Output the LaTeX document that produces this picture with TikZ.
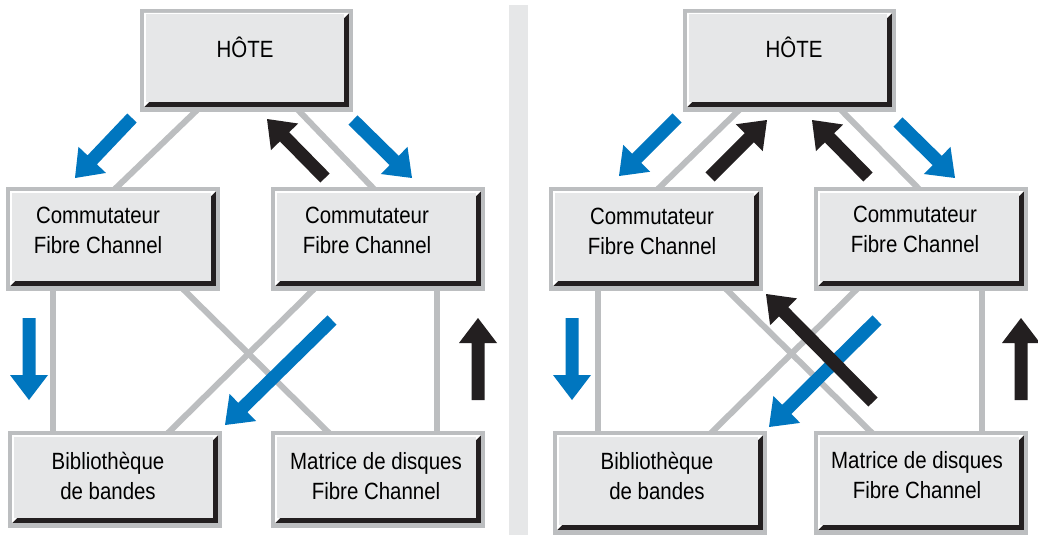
\documentclass[tikz,border=0pt]{standalone}
\usepackage{fontspec}
\setmainfont{Liberation Sans}[FakeStretch=0.87]
\usetikzlibrary{calc}
\definecolor{lgray}{HTML}{BCBEC0}
\definecolor{boxfill}{HTML}{E6E7E8}
\definecolor{ink}{HTML}{231F20}
\definecolor{fcblue}{HTML}{0076BF}
\definecolor{divgray}{HTML}{E6E7E8}
\pgfdeclarelayer{bg}
\pgfsetlayers{bg,main}
\tikzset{
  fcbox/.style={rectangle, inner sep=0pt, outer sep=0pt, fill=lgray,
    minimum width=214pt, minimum height=104pt, anchor=north west,
    path picture={
      \coordinate (nw) at (path picture bounding box.north west);
      \coordinate (se) at (path picture bounding box.south east);
      \fill[ink] ($(nw)+(4pt,-4pt)$) rectangle ($(se)+(-4pt,5pt)$);
      \fill[white] ($(nw)+(4pt,-4pt)$) -- ($(nw -| se)+(-4pt,-4pt)$) -- ($(nw -| se)+(-9pt,-9pt)$)
         -- ($(se -| nw)+(9pt,10pt)$) -- ($(se -| nw)+(4pt,5pt)$) -- cycle;
      \fill[boxfill] ($(nw)+(5.5pt,-5.5pt)$) rectangle ($(se)+(-9pt,10pt)$);
    }},
  lbl/.style={inner sep=0pt, align=center, anchor=base, font=\fontsize{23.5}{30}\selectfont, text=black},
  conn/.style={draw=lgray, line width=6pt, shorten <=-3pt, shorten >=-3pt},
}
\newcommand{\blkarrow}[3]{%
  \coordinate (t) at #2; \coordinate (p) at #3;
  \coordinate (b) at ($(p)!25pt!(t)$);
  \fill[#1] ($(t)!6.5pt!90:(p)$) -- ($(b)!6.5pt!-90:(t)$) -- ($(b)!19pt!-90:(t)$) -- (p)
     -- ($(b)!19pt!90:(t)$) -- ($(b)!6.5pt!90:(t)$) -- ($(t)!6.5pt!-90:(p)$) -- cycle;
}
\begin{document}
\begin{tikzpicture}[x=1pt,y=-1pt]
\useasboundingbox (0,0) rectangle (1038,535);
\begin{pgfonlayer}{bg}
\fill[white] (0,0) rectangle (1038,535);
\fill[divgray] (509,5) rectangle (528,535);
\end{pgfonlayer}
% boxes
\node[fcbox, minimum height=103pt, minimum width=213pt] (hL) at (140,9) {};
\node[fcbox] (cLL) at (6,187) {};
\node[fcbox] (cLR) at (271,187) {};
\node[fcbox, minimum height=97pt] (bL) at (8,431) {};
\node[fcbox, minimum height=97pt] (mL) at (271,431) {};
\node[fcbox, minimum height=103pt, minimum width=213pt] (hR) at (683,9) {};
\node[fcbox] (cRL) at (549,187) {};
\node[fcbox] (cRR) at (814,187) {};
\node[fcbox] (bR) at (553,431) {};
\node[fcbox] (mR) at (814,431) {};
% labels (anchor = baseline of last line)
\node[lbl] (thL) at (245,57) {HÔTE};
\node[lbl] (tcLL) at (98,253) {Commutateur\\Fibre Channel};
\node[lbl] (tcLR) at (367,253) {Commutateur\\Fibre Channel};
\node[lbl] (tbL) at (108,499) {Bibliothèque\\de bandes};
\node[lbl] (tmL) at (376,499) {Matrice de disques\\Fibre Channel};
\node[lbl] (thR) at (794,57) {HÔTE};
\node[lbl] (tcRL) at (652,254) {Commutateur\\Fibre Channel};
\node[lbl] (tcRR) at (915,252) {Commutateur\\Fibre Channel};
\node[lbl] (tbR) at (657,499) {Bibliothèque\\de bandes};
\node[lbl] (tmR) at (917,498) {Matrice de disques\\Fibre Channel};
% connectors
\begin{pgfonlayer}{bg}
\draw[conn] ($(hL.south west)+(55,0)$) -- ($(cLL.north west)+(111,0)$);
\draw[conn] ($(hL.south west)+(160,0)$) -- ($(cLR.north west)+(101,0)$);
\draw[conn] ($(cLL.south west)+(47,0)$) -- ($(bL.north west)+(45,0)$);
\draw[conn] ($(cLL.south west)+(179,0)$) -- ($(mL.north west)+(56,0)$);
\draw[conn] ($(cLR.south west)+(41,0)$) -- ($(bL.north west)+(162,0)$);
\draw[conn] ($(cLR.south west)+(166,0)$) -- ($(mL.north west)+(166,0)$);
\draw[conn] ($(hR.south west)+(54,0)$) -- ($(cRL.north west)+(111,0)$);
\draw[conn] ($(hR.south west)+(160,0)$) -- ($(cRR.north west)+(103,0)$);
\draw[conn] ($(cRL.south west)+(49,0)$) -- ($(bR.north west)+(45,0)$);
\draw[conn] ($(cRL.south west)+(179,0)$) -- ($(mR.north west)+(56,0)$);
\draw[conn] ($(cRR.south west)+(41,0)$) -- ($(bR.north west)+(160,0)$);
\draw[conn] ($(cRR.south west)+(168,0)$) -- ($(mR.north west)+(168,0)$);
\end{pgfonlayer}
% arrows left panel
\blkarrow{fcblue}{(132,118)}{(75,178)}
\blkarrow{ink}{(325,178)}{(267,119)}
\blkarrow{fcblue}{(353,120)}{(412,178)}
\blkarrow{fcblue}{(29,318)}{(29,400)}
\blkarrow{fcblue}{(332,320)}{(225,425)}
\blkarrow{ink}{(478,400)}{(478,318)}
% arrows right panel
\blkarrow{fcblue}{(677,118)}{(619,176)}
\blkarrow{ink}{(710,177)}{(767,120)}
\blkarrow{ink}{(868,177)}{(812,120)}
\blkarrow{fcblue}{(898,122)}{(955,178)}
\blkarrow{fcblue}{(572,318)}{(572,400)}
\blkarrow{fcblue}{(877,320)}{(769,427)}
\blkarrow{ink}{(873,402)}{(766,294)}
\blkarrow{ink}{(1021,400)}{(1021,318)}
\end{tikzpicture}
\end{document}
